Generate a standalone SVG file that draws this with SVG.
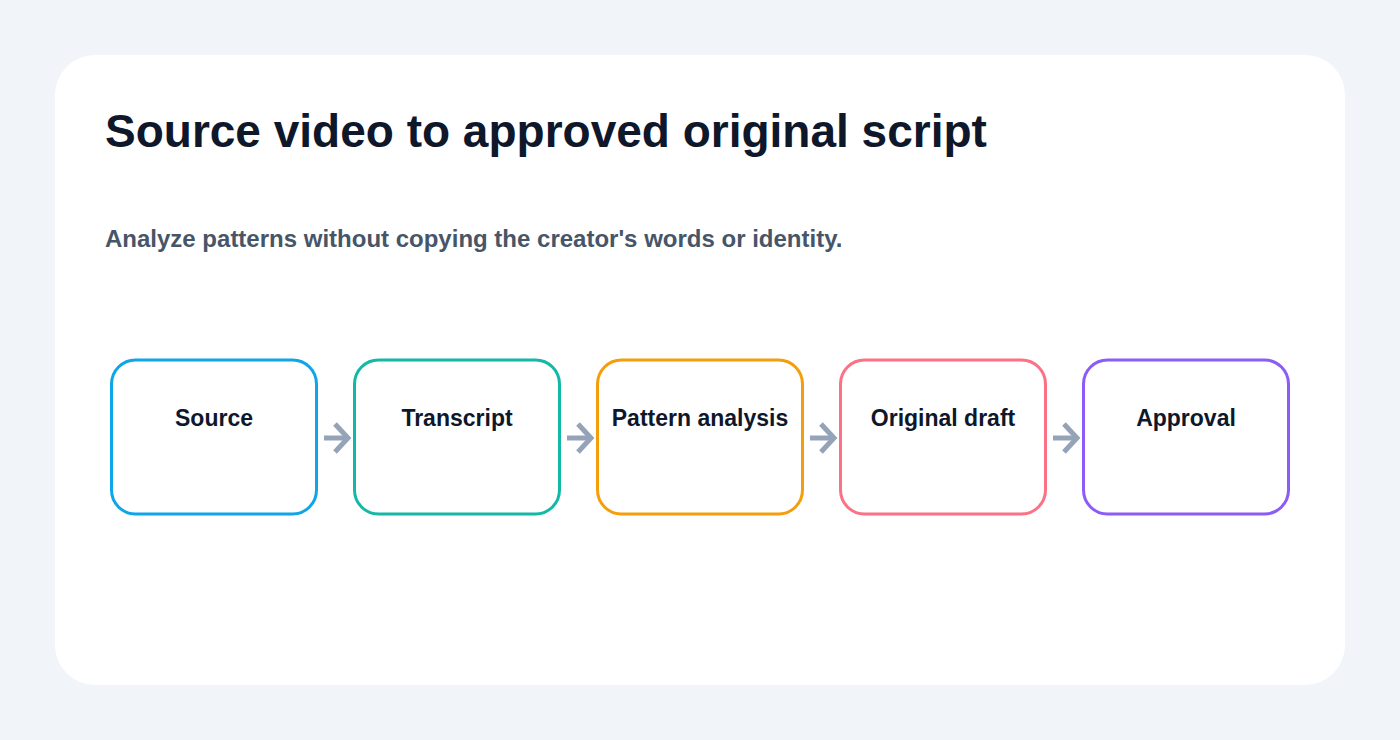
<svg xmlns="http://www.w3.org/2000/svg" width="1400" height="740" viewBox="0 0 1400 740">
<defs>
<style>
.node{fill:#ffffff;stroke-width:3}
.lbl{font-family:"Liberation Sans",Arial,sans-serif;font-weight:700;font-size:23px;fill:#0f172a;text-anchor:middle}
.conn{stroke:#94a3b8;stroke-width:5;fill:none}
</style>
<marker id="ah" viewBox="0 0 20 34" refX="16" refY="17" markerWidth="20" markerHeight="34" markerUnits="userSpaceOnUse" orient="auto">
<path d="M3,3 L16,17 L3,31" fill="none" stroke="#94a3b8" stroke-width="5"/>
</marker>
</defs>
<rect x="0" y="0" width="1400" height="740" fill="#f1f5f9"/>
<rect x="55" y="55" width="1290" height="630" rx="40" fill="#ffffff"/>
<text x="105" y="147" font-family="Liberation Sans,Arial,sans-serif" font-weight="700" font-size="46" fill="#0f172a">Source video to approved original script</text>
<text x="105" y="247" font-family="Liberation Sans,Arial,sans-serif" font-weight="700" font-size="24" fill="#475569">Analyze patterns without copying the creator's words or identity.</text>
<g id="connectors">
<path class="conn" d="M324,438 H348" marker-end="url(#ah)"/>
<path class="conn" d="M567,438 H591" marker-end="url(#ah)"/>
<path class="conn" d="M810,438 H834" marker-end="url(#ah)"/>
<path class="conn" d="M1053,438 H1077" marker-end="url(#ah)"/>
</g>
<g id="node-source"><rect class="node" x="111.5" y="360" width="205" height="154" rx="24" stroke="#0ea5e9"/><text class="lbl" x="214" y="426">Source</text></g>
<g id="node-transcript"><rect class="node" x="354.5" y="360" width="205" height="154" rx="24" stroke="#14b8a6"/><text class="lbl" x="457" y="426">Transcript</text></g>
<g id="node-pattern"><rect class="node" x="597.5" y="360" width="205" height="154" rx="24" stroke="#f59e0b"/><text class="lbl" x="700" y="426">Pattern analysis</text></g>
<g id="node-draft"><rect class="node" x="840.5" y="360" width="205" height="154" rx="24" stroke="#fb7185"/><text class="lbl" x="943" y="426">Original draft</text></g>
<g id="node-approval"><rect class="node" x="1083.5" y="360" width="205" height="154" rx="24" stroke="#8b5cf6"/><text class="lbl" x="1186" y="426">Approval</text></g>
</svg>
